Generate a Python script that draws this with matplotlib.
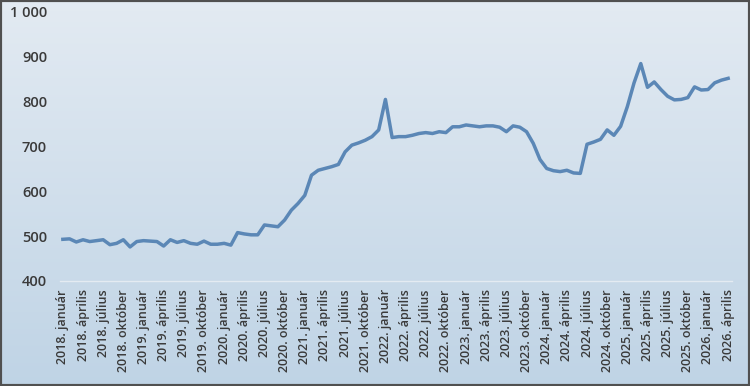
import matplotlib.pyplot as plt
import numpy as np
from matplotlib.patches import Rectangle

# monthly values, 2018. január .. 2026. április
values = [
    493, 494, 487, 492, 488, 490, 492, 481, 484, 492, 476, 488,
    490, 489, 488, 478, 492, 486, 490, 484, 482, 489, 482, 482,
    484, 480, 508, 505, 503, 503, 525, 523, 521, 536, 558, 573,
    591, 636, 647, 651, 655, 660, 688, 703, 708, 714, 722, 737,
    805, 720, 722, 722, 725, 729, 731, 729, 733, 731, 744, 744,
    748, 746, 744, 746, 746, 743, 733, 746, 743, 733, 707, 671,
    651, 646, 644, 647, 641, 640, 705, 710, 716, 737, 725, 745,
    789, 842, 885, 832, 844, 827, 812, 804, 805, 809, 833, 826,
    827, 842, 848, 852,
]
years = list(range(2018, 2027))
months = ["január", "április", "július", "október"]
tick_labels = [f"{y}. {m}" for y in years for m in months][:34]

fig = plt.figure(figsize=(7.5, 3.86), dpi=100)

# gradient background
bg = fig.add_axes([0, 0, 1, 1], zorder=0)
grad = np.linspace(0, 1, 256).reshape(-1, 1)
top = np.array([0.89, 0.92, 0.95])
bottom = np.array([0.75, 0.83, 0.90])
img = top + (bottom - top) * grad[..., None]
bg.imshow(img, aspect="auto", extent=[0, 1, 0, 1])
bg.set_axis_off()
bg.add_patch(Rectangle((0, 0), 1, 1, transform=bg.transAxes, fill=False,
                       edgecolor="#505050", linewidth=3))

ax = fig.add_axes([59.5 / 750, 105 / 386, 672 / 750, 269 / 386], zorder=1)
ax.patch.set_alpha(0)
x = np.arange(len(values))
ax.plot(x, values, color="#5b87b6", linewidth=2.5, solid_joinstyle="round")

ax.set_xlim(-0.5, len(values) - 0.5)
ax.set_ylim(400, 1000)
ax.set_yticks(range(400, 1001, 100))
ax.set_yticklabels([f"{v:,}".replace(",", " ") for v in range(400, 1001, 100)])
ax.set_xticks(range(0, len(values), 3))
ax.set_xticklabels(tick_labels, rotation=90)

for s in ["top", "right", "left"]:
    ax.spines[s].set_visible(False)
ax.spines["bottom"].set_color("#e4ebf2")
ax.spines["bottom"].set_linewidth(1)
ax.tick_params(axis="both", length=0, colors="#3a3a3a")
ax.tick_params(axis="y", pad=9, labelsize=10.5)
ax.tick_params(axis="x", pad=6, labelsize=9)
for lab in ax.get_xticklabels() + ax.get_yticklabels():
    lab.set_fontfamily("Open Sans")
    lab.set_fontweight("semibold")

fig.savefig("out.png", dpi=100)
